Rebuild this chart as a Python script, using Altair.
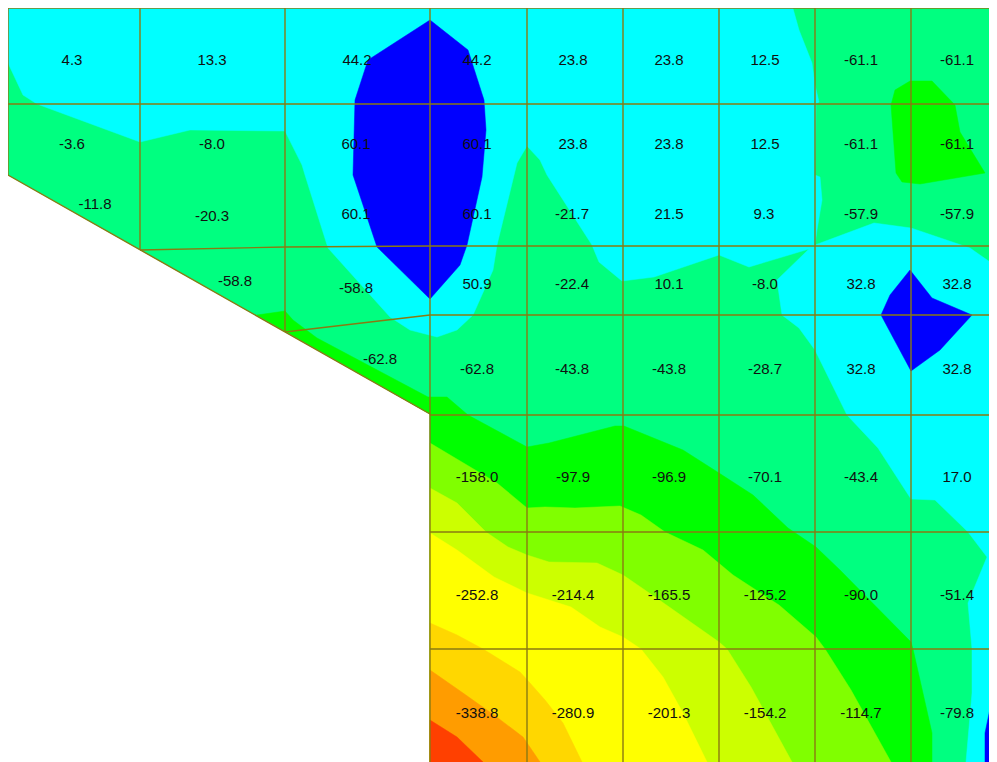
import altair as alt
import pandas as pd

# contour bands, painted in order (picture coordinates)
band_colors = ["#00ff80", "#00ffff", "#0000ff", "#0000ff", "#0000ff", "#00ff00", "#00ff00",
               "#80ff00", "#ccff00", "#ffff00", "#ffd700", "#ff9c00", "#ff4000"]
mesh_x = [8, 997, 997, 430, 430, 8]
mesh_y = [5, 5, 762, 762, 414, 175]
cyan_x = [8, 792, 799, 812, 815, 819, 816, 815, 820, 822, 817, 815, 874, 911, 970, 997, 997, 966, 972, 972, 968, 987, 968, 935, 911, 878, 847, 815, 799, 782, 777, 809, 749, 719, 654, 622, 599, 592, 547, 540, 527, 517, 497, 493, 473, 457, 437, 410, 390, 328, 305, 302, 285, 190, 140, 37, 23, 8]
cyan_y = [5, 5, 30, 63, 85, 102, 104, 175, 177, 200, 230, 245, 223, 228, 248, 267, 762, 762, 693, 649, 603, 557, 532, 500, 499, 448, 415, 350, 328, 315, 280, 249, 267, 255, 277, 281, 262, 245, 175, 160, 146, 163, 245, 270, 315, 330, 337, 330, 317, 248, 175, 165, 131, 130, 142, 104, 95, 63]
blue1_x = [430, 368, 355, 353, 377, 430, 460, 467, 482, 486, 484, 468]
blue1_y = [20, 60, 100, 175, 247, 299, 265, 245, 177, 130, 100, 50]
blue2_x = [910, 932, 972, 940, 911, 881, 890]
blue2_y = [270, 298, 315, 350, 371, 315, 295]
blue3_x = [997, 985, 985, 997]
blue3_y = [675, 733, 762, 762]
green1_x = [910, 932, 955, 960, 985, 920, 902, 896, 891, 895]
green1_y = [81, 81, 105, 132, 173, 184, 182, 173, 105, 90]
green2_x = [257, 285, 293, 317, 428, 447, 468, 527, 549, 615, 624, 683, 719, 753, 788, 816, 840, 911, 913, 932, 932, 430, 430]
green2_y = [315, 311, 320, 338, 397, 397, 415, 447, 443, 426, 426, 450, 473, 495, 528, 547, 570, 642, 649, 733, 762, 762, 414]
lime_x = [430, 497, 527, 545, 575, 620, 641, 665, 703, 733, 779, 816, 825, 851, 891, 430]
lime_y = [443, 483, 508, 507, 508, 506, 515, 532, 550, 575, 605, 637, 649, 690, 762, 762]
chart_x = [430, 457, 486, 508, 527, 549, 597, 623, 655, 719, 727, 751, 792, 430]
chart_y = [488, 503, 532, 547, 555, 562, 563, 575, 597, 642, 649, 687, 762, 762]
yellow_x = [430, 457, 494, 527, 571, 600, 623, 641, 663, 683, 707, 430]
yellow_y = [533, 550, 577, 593, 607, 627, 637, 649, 677, 713, 762, 762]
gold_x = [430, 457, 483, 520, 530, 545, 563, 582, 430]
gold_y = [623, 635, 649, 672, 683, 700, 723, 762, 762]
orange_x = [430, 463, 494, 523, 540, 430]
orange_y = [670, 693, 715, 737, 762, 762]
red_x = [430, 457, 483, 430]
red_y = [720, 737, 762, 762]
bands_x = [mesh_x, cyan_x, blue1_x, blue2_x, blue3_x, green1_x, green2_x, lime_x, chart_x, yellow_x, gold_x, orange_x, red_x]
bands_y = [mesh_y, cyan_y, blue1_y, blue2_y, blue3_y, green1_y, green2_y, lime_y, chart_y, yellow_y, gold_y, orange_y, red_y]

# mesh edges
seg_x1 = [8, 8, 8, 140, 285, 430, 285, 430, 430, 430, 430, 8, 140, 285, 430, 527, 623, 719, 815, 911]
seg_y1 = [8, 104, 175, 250, 247, 246, 332, 315, 415, 532, 649, 8, 8, 8, 8, 8, 8, 8, 8, 8]
seg_x2 = [997, 997, 430, 285, 430, 997, 430, 997, 997, 997, 997, 8, 140, 285, 430, 527, 623, 719, 815, 911]
seg_y2 = [8, 104, 414, 247, 246, 246, 315, 315, 415, 532, 649, 175, 250, 332, 762, 762, 762, 762, 762, 762]

# values printed on the elements
label_text = ["4.3", "13.3", "44.2", "44.2", "23.8", "23.8", "12.5", "-61.1", "-61.1",
              "-3.6", "-8.0", "60.1", "60.1", "23.8", "23.8", "12.5", "-61.1", "-61.1",
              "-11.8", "-20.3", "60.1", "60.1", "-21.7", "21.5", "9.3", "-57.9", "-57.9",
              "-58.8", "-58.8", "50.9", "-22.4", "10.1", "-8.0", "32.8", "32.8",
              "-62.8", "-62.8", "-43.8", "-43.8", "-28.7", "32.8", "32.8",
              "-158.0", "-97.9", "-96.9", "-70.1", "-43.4", "17.0",
              "-252.8", "-214.4", "-165.5", "-125.2", "-90.0", "-51.4",
              "-338.8", "-280.9", "-201.3", "-154.2", "-114.7", "-79.8"]
label_x = [72, 212, 357, 477, 573, 669, 765, 861, 957,
           72, 212, 356, 477, 573, 669, 765, 861, 957,
           95, 212, 356, 477, 572, 669, 764, 861, 957,
           235, 356, 477, 572, 669, 765, 861, 957,
           380, 477, 572, 669, 765, 861, 957,
           477, 573, 669, 765, 861, 957,
           477, 573, 669, 765, 861, 957,
           477, 573, 669, 765, 861, 957]
label_y = [60] * 9 + [144] * 9 + [204, 216] + [214] * 7 + [281, 288] + [284] * 6 + [359] + [369] * 6 + [477] * 6 + [595] * 6 + [713] * 6

X = alt.X("x:Q", axis=None, scale=alt.Scale(domain=[8, 989], nice=False, zero=False))
Y = alt.Y("y:Q", axis=None, scale=alt.Scale(domain=[762, 8], nice=False, zero=False))

layers = []
for col, xs, ys in zip(band_colors, bands_x, bands_y):
    df = pd.DataFrame({"x": xs + xs[:1], "y": ys + ys[:1], "i": range(len(xs) + 1)})
    layers.append(alt.Chart(df).mark_line(fill=col, stroke=col, strokeWidth=0.5, clip=True, interpolate="linear")
                  .encode(x=X, y=Y, order="i:Q"))

segs = pd.DataFrame({"x": seg_x1, "y": seg_y1, "x2": seg_x2, "y2": seg_y2})
layers.append(alt.Chart(segs).mark_rule(color="#8a7a12", strokeWidth=1.4, clip=True)
              .encode(x=X, y=Y, x2="x2:Q", y2="y2:Q"))

labels = pd.DataFrame({"x": label_x, "y": label_y, "t": label_text})
layers.append(alt.Chart(labels).mark_text(font="Liberation Sans", fontSize=15, color="#101010",
                                          align="center", baseline="middle", clip=True)
              .encode(x=X, y=Y, text="t:N"))

chart = alt.layer(*layers).properties(width=981, height=754, padding=0,
                                      autosize=alt.AutoSizeParams(type="none"),
                                      background="white").configure_view(stroke=None)
chart.save("out.html", embed_options={"renderer": "svg", "actions": False})
